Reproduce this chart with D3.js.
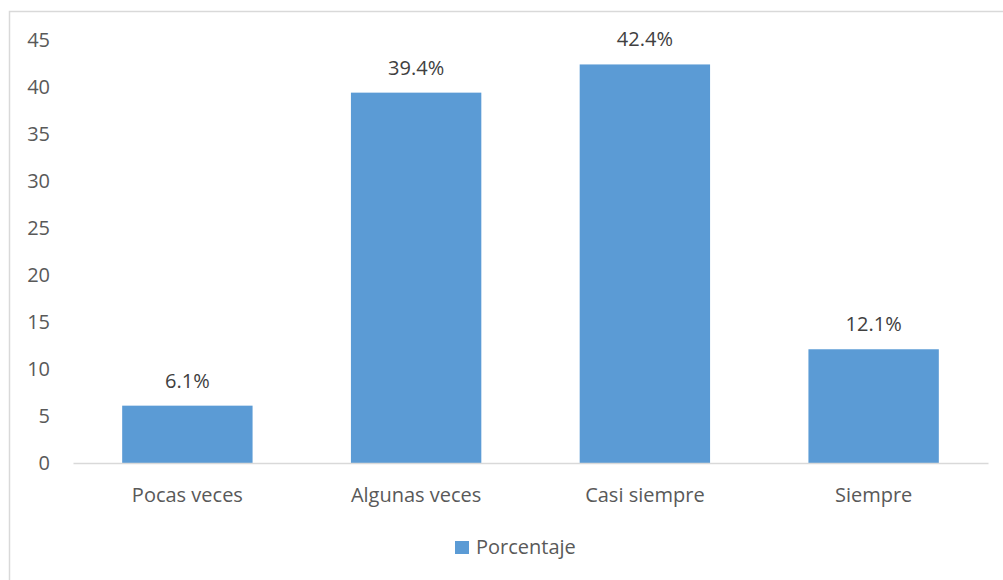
<!DOCTYPE html>
<html>
<head>
<meta charset="utf-8">
<script src="https://cdn.jsdelivr.net/npm/d3@7"></script>
<style>
  html, body { margin: 0; padding: 0; background: #fff; }
  svg { display: block; }
  text { font-family: "Open Sans", "Noto Sans", sans-serif; }
</style>
</head>
<body>
<svg id="chart" width="1003" height="580"></svg>
<script>
const categories = ["Pocas veces", "Algunas veces", "Casi siempre", "Siempre"];
const values = [6.1, 39.4, 42.4, 12.1];
const valueLabels = ["6.1%", "39.4%", "42.4%", "12.1%"];
const yTicks = [0, 5, 10, 15, 20, 25, 30, 35, 40, 45];
const seriesName = "Porcentaje";

const W = 1003, H = 580;
const margin = { left: 73, right: 15, top: 40, bottom: 117 };
const FS = 20;
const svg = d3.select("#chart");

// chart border (top and left visible)
svg.append("rect")
  .attr("x", 9.5).attr("y", 11.5)
  .attr("width", 1100).attr("height", 700)
  .attr("fill", "#fff")
  .attr("stroke", "#d9d9d9").attr("stroke-width", 1.5);

const x = d3.scaleBand()
  .domain(categories)
  .range([margin.left, W - margin.right])
  .paddingInner(0.43).paddingOuter(0.215);

const y = d3.scaleLinear()
  .domain([0, 45])
  .range([463, 40]);

// y axis labels
const yAxis = d3.axisLeft(y).tickValues(yTicks).tickSize(0).tickPadding(0);
const yg = svg.append("g").attr("transform", "translate(50,0)").call(yAxis);
yg.select(".domain").remove();
yg.selectAll("text")
  .attr("fill", "#595959")
  .attr("font-size", FS + "px")
  .attr("text-anchor", "end");

// bars
svg.selectAll("rect.bar")
  .data(values)
  .enter().append("rect")
  .attr("class", "bar")
  .attr("x", (d, i) => x(categories[i]))
  .attr("y", d => y(d))
  .attr("width", x.bandwidth())
  .attr("height", d => y(0) - y(d))
  .attr("fill", "#5b9bd5");

// baseline / x axis
const xAxis = d3.axisBottom(x).tickSize(0).tickPadding(0);
const xg = svg.append("g").attr("transform", `translate(0,${y(0)})`).call(xAxis);
xg.select(".domain").attr("stroke", "#d9d9d9").attr("stroke-width", 1.5);
xg.selectAll("text")
  .attr("fill", "#595959")
  .attr("font-size", FS + "px")
  .attr("dy", "1.95em");

// value labels
svg.selectAll("text.vlabel")
  .data(values)
  .enter().append("text")
  .attr("class", "vlabel")
  .attr("x", (d, i) => x(categories[i]) + x.bandwidth() / 2)
  .attr("y", d => y(d) - 18)
  .attr("text-anchor", "middle")
  .attr("fill", "#404040")
  .attr("font-size", FS + "px")
  .text((d, i) => valueLabels[i]);

// legend
const lg = svg.append("g");
lg.append("rect").attr("x", 455).attr("y", 541).attr("width", 14).attr("height", 13).attr("fill", "#5b9bd5");
lg.append("text").attr("x", 476).attr("y", 554)
  .attr("fill", "#595959").attr("font-size", FS + "px").text(seriesName);
</script>
</body>
</html>
